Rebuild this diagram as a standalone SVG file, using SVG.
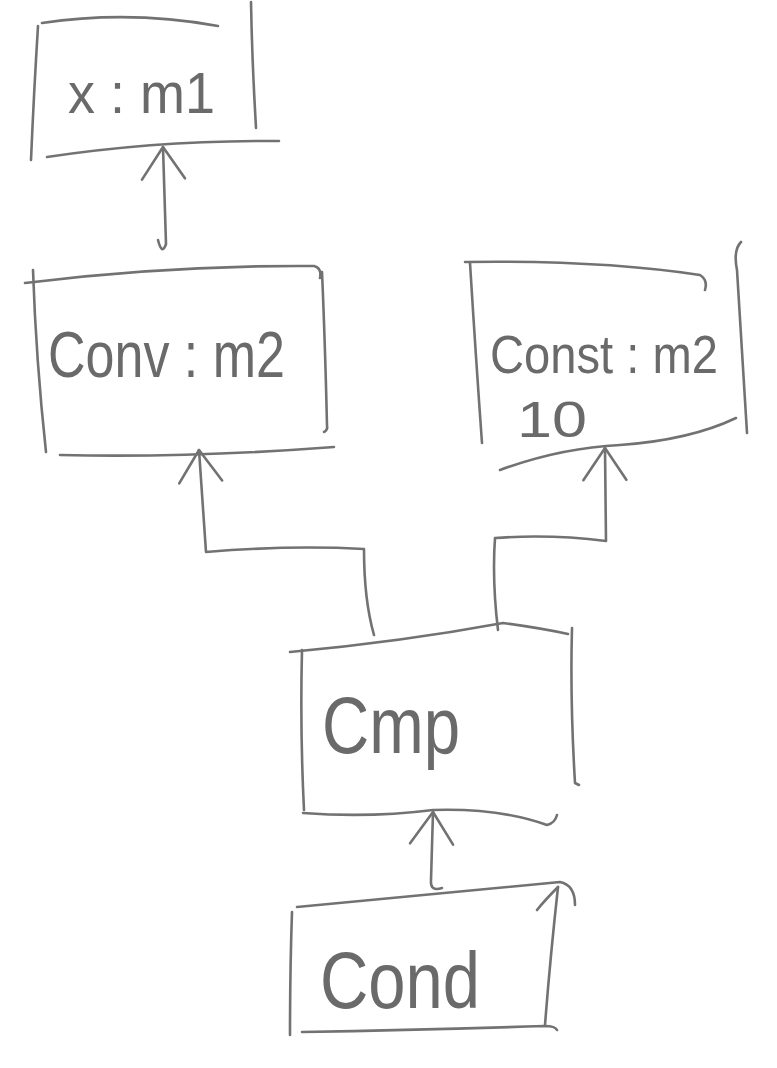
<svg xmlns="http://www.w3.org/2000/svg" width="777" height="1068" viewBox="0 0 777 1068">
<style>
.s{fill:none;stroke:#727272;stroke-width:2.6;stroke-linecap:round;stroke-linejoin:round}
.t{font-family:"Liberation Sans","DejaVu Sans",sans-serif;fill:#6a6a6a}
</style>
<defs>
<marker id="arr" markerUnits="userSpaceOnUse" markerWidth="80" markerHeight="80" viewBox="-40 -40 80 80" refX="0" refY="0" orient="auto">
<path d="M -32 -22 L 0 0 L -32 21" fill="none" stroke="#727272" stroke-width="2.6" stroke-linecap="round" stroke-linejoin="round"/>
</marker>
</defs>
<rect width="777" height="1068" fill="#ffffff"/>
<g id="node-x">
<path class="s" d="M 42 23 Q 130 10 218 26"/>
<path class="s" d="M 38 26 Q 34 90 31 160"/>
<path class="s" d="M 251 2 Q 252 60 256 128"/>
<path class="s" d="M 47 157 Q 160 140 279 141"/>
<text class="t" x="68" y="113" font-size="58" textLength="147" lengthAdjust="spacingAndGlyphs">x : m1</text>
</g>
<g id="node-conv">
<path class="s" d="M 25 283 Q 170 265 314 266 Q 322 268 320 278"/>
<path class="s" d="M 33 270 Q 36 360 46 452"/>
<path class="s" d="M 322 272 Q 325 340 327 425 Q 328 430 324 432"/>
<path class="s" d="M 60 455 Q 190 458 334 447"/>
<text class="t" x="48" y="377" font-size="64" textLength="237" lengthAdjust="spacingAndGlyphs">Conv : m2</text>
</g>
<g id="node-const">
<path class="s" d="M 465 262 Q 600 260 700 275 Q 708 280 705 290"/>
<path class="s" d="M 470 263 Q 476 360 482 443"/>
<path class="s" d="M 741 242 Q 733 250 737 270 Q 742 350 747 433"/>
<path class="s" d="M 500 470 Q 560 448 620 445 Q 690 440 736 418"/>
<text class="t" x="490" y="373" font-size="54" textLength="228" lengthAdjust="spacingAndGlyphs">Const : m2</text>
<text class="t" x="517" y="437" font-size="50" textLength="70" lengthAdjust="spacingAndGlyphs">10</text>
</g>
<g id="node-cmp">
<path class="s" d="M 290 652 Q 400 642 503 623 Q 540 628 568 634"/>
<path class="s" d="M 572 628 Q 570 700 575 783 L 579 785"/>
<path class="s" d="M 302 650 Q 300 730 304 810"/>
<path class="s" d="M 303 813 Q 370 818 433 810 Q 500 808 547 825 Q 555 823 557 815"/>
<text class="t" x="322" y="753" font-size="80" textLength="138" lengthAdjust="spacingAndGlyphs">Cmp</text>
</g>
<g id="node-cond">
<path class="s" d="M 297 907 Q 420 895 560 882 Q 575 885 575 905"/>
<path class="s" d="M 537 910 Q 545 900 558 887"/>
<path class="s" d="M 292 912 Q 290 970 290 1035"/>
<path class="s" d="M 558 887 Q 550 960 545 1025"/>
<path class="s" d="M 302 1032 Q 420 1030 545 1026 Q 555 1026 557 1030"/>
<text class="t" x="320" y="1008" font-size="80" textLength="160" lengthAdjust="spacingAndGlyphs">Cond</text>
</g>
<g id="connectors">
<path class="s" marker-end="url(#arr)" d="M 158 240 Q 162 256 166 244 L 163 147"/>
<path class="s" marker-end="url(#arr)" d="M 374 635 Q 364 600 364 549 Q 290 545 206 552 L 199 450"/>
<path class="s" marker-end="url(#arr)" d="M 498 630 Q 492 580 495 538 Q 550 534 606 541 L 605 448"/>
<path class="s" marker-end="url(#arr)" d="M 442 888 Q 430 892 431 880 L 433 812"/>
</g>
</svg>
